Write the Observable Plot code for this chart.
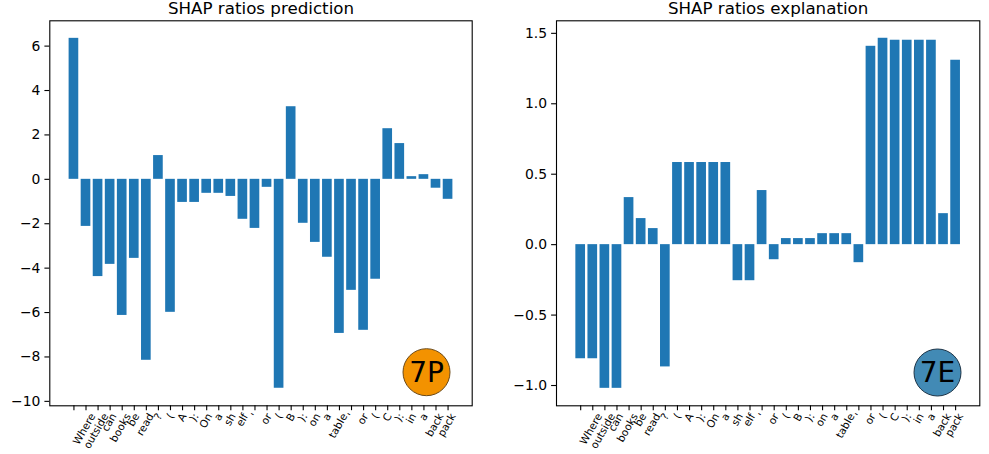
<!DOCTYPE html>
<html><head><meta charset="utf-8">
<script src="https://cdn.jsdelivr.net/npm/d3@7"></script>
<script src="https://cdn.jsdelivr.net/npm/@observablehq/plot@0.6"></script>
<style>
body{margin:0;background:#fff;}
#wrap{display:flex;width:989px;height:454px;}
#wrap svg{display:block;}
</style></head><body><div id="wrap"></div>
<script>
const tokens = ["", "Where", "outside", "can", "books", "be", "read", "?", "(", "A", "):", "On", "a", "sh", "elf", "'", "or", "(", "B", "):", "on", "a", "table", "'", "or", "(", "C", "):", "in", "a", "back", "pack"];
const predictionValues = [6.35, -2.12, -4.38, -3.83, -6.13, -3.56, -8.15, 1.07, -5.99, -1.04, -1.04, -0.63, -0.63, -0.77, -1.80, -2.21, -0.36, -9.41, 3.27, -1.98, -2.84, -3.51, -6.94, -5.00, -6.80, -4.50, 2.28, 1.61, 0.12, 0.21, -0.40, -0.90];
const explanationValues = [-0.81, -0.81, -1.02, -1.02, 0.334, 0.185, 0.114, -0.868, 0.583, 0.583, 0.583, 0.583, 0.583, -0.256, -0.256, 0.384, -0.107, 0.043, 0.043, 0.043, 0.078, 0.078, 0.078, -0.128, 1.408, 1.465, 1.451, 1.451, 1.451, 1.451, 0.22, 1.309];
const predictionTicks = [-10, -8, -6, -4, -2, 0, 2, 4, 6];
const explanationTicks = [-1, -0.5, 0, 0.5, 1, 1.5];
const titles = ["SHAP ratios prediction", "SHAP ratios explanation"];
const badges = ["7P", "7E"];

const indices = tokens.map((_, i) => i);
const FONT = "'DejaVu Sans', sans-serif";
const xLabelSize = 10.5;

const measureCtx = document.createElement("canvas").getContext("2d");
measureCtx.font = `${xLabelSize}px 'DejaVu Sans'`;

// emulate matplotlib's centred alignment of rotated tick labels
function centreRotated(index, scales, values, dimensions, context, next) {
  const g = next(index, scales, values, dimensions, context);
  for (const t of g.querySelectorAll("text")) {
    const L = measureCtx.measureText(t.textContent).width;
    t.setAttribute("transform", `translate(${0.2 * L},0) ` + (t.getAttribute("transform") || ""));
  }
  return g;
}

function panel({values, title, yDomain, yTicks, yFormat, badge, badgeFill, badgeStroke, width, marginLeft, marginRight, badgeDx, badgeDy}) {
  const data = values.map((v, i) => ({i, v}));
  return Plot.plot({
    width, height: 454,
    marginTop: 20.3, marginBottom: 48.7, marginLeft, marginRight,
    style: {fontFamily: FONT, color: "black", background: "white", overflow: "visible"},
    x: {type: "band", domain: indices, paddingInner: 0.2, paddingOuter: 1.6, round: false, align: 0.5, label: null},
    y: {domain: yDomain, nice: false, label: null},
    marks: [
      Plot.barY(data, {x: "i", y: "v", fill: "#1f77b4"}),
      Plot.frame({stroke: "black", strokeWidth: 1.1}),
      Plot.axisY({ticks: yTicks, tickFormat: yFormat, tickSize: 4.9, tickPadding: 4.5, fontSize: 13.9, strokeWidth: 1.1, label: null}),
      Plot.axisX({ticks: indices, tickFormat: () => "", tickSize: 4.9, strokeWidth: 1.1, label: null}),
      Plot.text(indices, {x: d => d, text: d => tokens[d], frameAnchor: "bottom", dy: 8.5, rotate: -60,
        textAnchor: "end", lineAnchor: "middle", fontSize: xLabelSize, fill: "black", render: centreRotated}),
      Plot.text([title], {frameAnchor: "top", dy: -12, lineAnchor: "middle", fontSize: 16.7, textAnchor: "middle", text: d => d, fill: "black"}),
      Plot.dot([badge], {frameAnchor: "bottom-right", dx: badgeDx, dy: badgeDy, r: 23.5, fill: badgeFill, stroke: badgeStroke, strokeWidth: 1}),
      Plot.text([badge], {frameAnchor: "bottom-right", dx: badgeDx, dy: badgeDy + 1, lineAnchor: "middle", fontSize: 28, textAnchor: "middle", text: d => d, fill: "black"})
    ]
  });
}

const wrap = document.getElementById("wrap");
wrap.append(panel({
  values: predictionValues, title: titles[0], yDomain: [-10.2, 7.14], yTicks: predictionTicks,
  yFormat: d3.format("d"), badge: badges[0], badgeFill: "#f39200", badgeStroke: "#6b4a1a",
  width: 494, marginLeft: 49.3, marginRight: 22.3, badgeDx: -45.7, badgeDy: -33.6
}));
wrap.append(panel({
  values: explanationValues, title: titles[1], yDomain: [-1.144, 1.589], yTicks: explanationTicks,
  yFormat: d3.format(".1f"), badge: badges[1], badgeFill: "#428ab5", badgeStroke: "#1d3447",
  width: 495, marginLeft: 62, marginRight: 9.7, badgeDx: -42.3, badgeDy: -33.3
}));
</script>
</body></html>
